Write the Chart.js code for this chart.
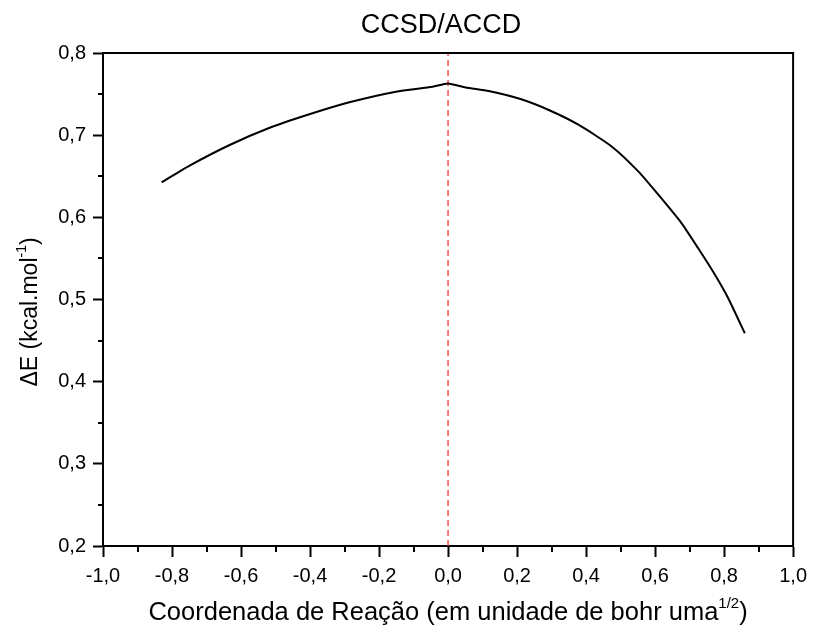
<!DOCTYPE html>
<html>
<head>
<meta charset="utf-8">
<script src="https://cdn.jsdelivr.net/npm/chart.js@4/dist/chart.umd.min.js"></script>
<style>
  html, body { margin: 0; padding: 0; background: #ffffff; }
  #wrap { width: 814px; height: 628px; }
</style>
</head>
<body>
<div id="wrap"><canvas id="chart" width="814" height="628"></canvas></div>
<script>
// Reaction coordinate (bohr amu^1/2) and energy profile (kcal/mol)
const reactionCoord = [-0.830, -0.749, -0.633, -0.517, -0.402, -0.286, -0.151, -0.045, 0.000, 0.051, 0.118, 0.210, 0.292, 0.379, 0.475, 0.552, 0.610, 0.677, 0.725, 0.774, 0.812, 0.860];
const deltaE        = [0.6426, 0.6629, 0.688, 0.709, 0.7254, 0.740, 0.7529, 0.759, 0.763, 0.758, 0.7538, 0.744, 0.7306, 0.7124, 0.686, 0.6556, 0.6272, 0.5927, 0.5623, 0.5298, 0.5015, 0.4589];

// Transition-state marker (vertical dashed line)
const tsLineX = [0, 0];
const tsLineY = [0.2, 0.8];

// Axis ticks
const xMajorTicks = [-1.0, -0.8, -0.6, -0.4, -0.2, 0.0, 0.2, 0.4, 0.6, 0.8, 1.0];
const xMinorTicks = [-0.9, -0.7, -0.5, -0.3, -0.1, 0.1, 0.3, 0.5, 0.7, 0.9];
const yMajorTicks = [0.2, 0.3, 0.4, 0.5, 0.6, 0.7, 0.8];
const yMinorTicks = [0.25, 0.35, 0.45, 0.55, 0.65, 0.75];

// Texts
const chartTitle = 'CCSD/ACCD';
const xTitleParts = [{ t: 'Coordenada de Reação (em unidade de bohr uma' }, { t: '1/2', sup: true }, { t: ')' }];
const yTitleParts = [{ t: 'ΔE (kcal.mol' }, { t: '-1', sup: true }, { t: ')' }];

const FONT = '"Liberation Sans", Arial, sans-serif';
const fmt = v => (Math.abs(v) < 1e-9 ? 0 : v).toFixed(1).replace('.', ',');

function richWidth(ctx, parts, size, supSize) {
  let w = 0;
  for (const p of parts) {
    ctx.font = (p.sup ? supSize : size) + 'px ' + FONT;
    w += ctx.measureText(p.t).width;
  }
  return w;
}
function drawRich(ctx, parts, x, y, size, supSize, raise) {
  let cx = x;
  for (const p of parts) {
    ctx.font = (p.sup ? supSize : size) + 'px ' + FONT;
    ctx.fillText(p.t, cx, p.sup ? y - raise : y);
    cx += ctx.measureText(p.t).width;
  }
}

const decorations = {
  id: 'decorations',
  afterDraw(chart) {
    const ctx = chart.ctx;
    const a = chart.chartArea;
    const xs = chart.scales.x, ys = chart.scales.y;
    ctx.save();
    ctx.strokeStyle = '#000';
    ctx.lineWidth = 2;
    // top and right frame
    ctx.beginPath();
    ctx.moveTo(a.left, a.top); ctx.lineTo(a.right, a.top); ctx.lineTo(a.right, a.bottom);
    ctx.stroke();
    // minor ticks
    ctx.beginPath();
    for (const v of xMinorTicks) {
      const px = Math.round(xs.getPixelForValue(v));
      ctx.moveTo(px, a.bottom); ctx.lineTo(px, a.bottom + 6);
    }
    for (const v of yMinorTicks) {
      const py = Math.round(ys.getPixelForValue(v));
      ctx.moveTo(a.left, py); ctx.lineTo(a.left - 5, py);
    }
    ctx.stroke();

    ctx.fillStyle = '#000';
    ctx.textBaseline = 'alphabetic';
    ctx.textAlign = 'center';
    // title
    ctx.font = '27px ' + FONT;
    ctx.fillText(chartTitle, 441, 33);

    // x axis title
    ctx.textAlign = 'left';
    const xw = richWidth(ctx, xTitleParts, 25.5, 15);
    drawRich(ctx, xTitleParts, (a.left + a.right) / 2 - xw / 2, 620, 25.5, 15, 12);

    // y axis title (rotated)
    ctx.translate(37, 312);
    ctx.rotate(-Math.PI / 2);
    const yw = richWidth(ctx, yTitleParts, 23, 14);
    drawRich(ctx, yTitleParts, -yw / 2, 0, 23, 14, 11);
    ctx.restore();
  }
};

new Chart(document.getElementById('chart'), {
  type: 'line',
  data: {
    datasets: [
      {
        data: reactionCoord.map((x, i) => ({ x, y: deltaE[i] })),
        borderColor: '#000',
        borderWidth: 2,
        pointRadius: 0,
        tension: 0.2,
        fill: false
      },
      {
        data: tsLineX.map((x, i) => ({ x, y: tsLineY[i] })),
        borderColor: '#f53535',
        borderWidth: 1.3,
        borderDash: [6, 4],
        pointRadius: 0,
        fill: false
      }
    ]
  },
  options: {
    responsive: false,
    animation: false,
    devicePixelRatio: 1,
    layout: { padding: { top: 53, right: 19, left: 0, bottom: 0 } },
    plugins: { legend: { display: false }, tooltip: { enabled: false }, title: { display: false } },
    scales: {
      x: {
        type: 'linear',
        min: -1, max: 1,
        afterBuildTicks: s => { s.ticks = xMajorTicks.map(v => ({ value: v })); },
        afterFit: s => { s.height = 82; },
        ticks: { callback: v => fmt(v), color: '#000', font: { family: FONT, size: 20 }, padding: 7, maxRotation: 0, autoSkip: false },
        grid: { drawOnChartArea: false, drawTicks: true, tickLength: 11, tickWidth: 2, tickColor: '#000' },
        border: { display: true, color: '#000', width: 2 }
      },
      y: {
        type: 'linear',
        min: 0.2, max: 0.8,
        afterBuildTicks: s => { s.ticks = yMajorTicks.map(v => ({ value: v })); },
        afterFit: s => { s.width = 103; },
        ticks: { callback: v => fmt(v), color: '#000', font: { family: FONT, size: 20 }, padding: 7, autoSkip: false },
        grid: { drawOnChartArea: false, drawTicks: true, tickLength: 10, tickWidth: 2, tickColor: '#000' },
        border: { display: true, color: '#000', width: 2 }
      }
    }
  },
  plugins: [decorations]
});
</script>
</body>
</html>
